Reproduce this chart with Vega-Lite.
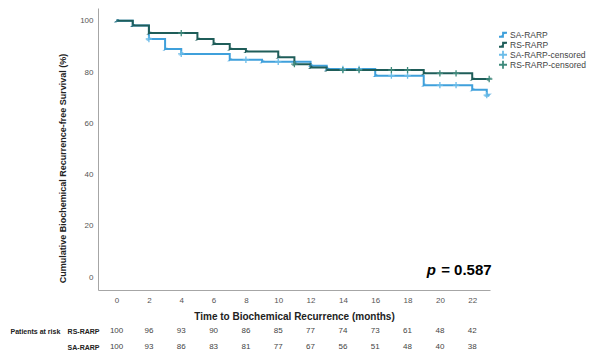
{
  "$schema": "https://vega.github.io/schema/vega-lite/v6.json",
  "padding": {"left": 10, "top": 8, "right": 0, "bottom": 0},
  "spacing": 2,
  "background": "white",
  "config": {
    "view": {"stroke": null},
    "font": "Liberation Sans",
    "axis": {"grid": false, "ticks": false, "domainColor": "#a6a6a6", "labelColor": "#555555", "labelFont": "Liberation Sans", "titleFont": "Liberation Sans", "titleColor": "#222222", "labelOverlap": false},
    "axisX": {"values": [0,2,4,6,8,10,12,14,16,18,20,22], "tickCount": 12, "labelOverlap": false, "labelBound": false, "labelFlush": false}
  },
  "datasets": {
    "curves": [
      {"group": "SA-RARP", "month": 0, "surv": 100},
      {"group": "SA-RARP", "month": 1, "surv": 98.2},
      {"group": "SA-RARP", "month": 2, "surv": 92.9},
      {"group": "SA-RARP", "month": 3, "surv": 89.0},
      {"group": "SA-RARP", "month": 4, "surv": 87.1},
      {"group": "SA-RARP", "month": 7, "surv": 84.8},
      {"group": "SA-RARP", "month": 9, "surv": 84.0},
      {"group": "SA-RARP", "month": 12, "surv": 82.5},
      {"group": "SA-RARP", "month": 13, "surv": 81.2},
      {"group": "SA-RARP", "month": 16, "surv": 78.6},
      {"group": "SA-RARP", "month": 19, "surv": 74.9},
      {"group": "SA-RARP", "month": 22, "surv": 73.1},
      {"group": "SA-RARP", "month": 22.9, "surv": 71.0},
      {"group": "SA-RARP", "month": 23.05, "surv": 71.0},
      {"group": "RS-RARP", "month": 0, "surv": 100},
      {"group": "RS-RARP", "month": 1, "surv": 98.2},
      {"group": "RS-RARP", "month": 2, "surv": 95.2},
      {"group": "RS-RARP", "month": 5, "surv": 92.9},
      {"group": "RS-RARP", "month": 6, "surv": 91.0},
      {"group": "RS-RARP", "month": 7, "surv": 89.0},
      {"group": "RS-RARP", "month": 8, "surv": 88.0},
      {"group": "RS-RARP", "month": 10, "surv": 85.8},
      {"group": "RS-RARP", "month": 11, "surv": 83.1},
      {"group": "RS-RARP", "month": 12, "surv": 81.8},
      {"group": "RS-RARP", "month": 13, "surv": 80.8},
      {"group": "RS-RARP", "month": 19, "surv": 79.5},
      {"group": "RS-RARP", "month": 22, "surv": 77.3},
      {"group": "RS-RARP", "month": 23.05, "surv": 77.3}
    ],
    "censored": [
      {"group": "SA-RARP-censored", "month": 2, "surv": 92.9},
      {"group": "SA-RARP-censored", "month": 4, "surv": 87.1},
      {"group": "SA-RARP-censored", "month": 8, "surv": 84.8},
      {"group": "SA-RARP-censored", "month": 10, "surv": 84.0},
      {"group": "SA-RARP-censored", "month": 14, "surv": 81.2},
      {"group": "SA-RARP-censored", "month": 15, "surv": 81.2},
      {"group": "SA-RARP-censored", "month": 17, "surv": 78.6},
      {"group": "SA-RARP-censored", "month": 18, "surv": 78.6},
      {"group": "SA-RARP-censored", "month": 20, "surv": 74.9},
      {"group": "SA-RARP-censored", "month": 21, "surv": 74.9},
      {"group": "SA-RARP-censored", "month": 22.9, "surv": 71.0},
      {"group": "RS-RARP-censored", "month": 4, "surv": 95.2},
      {"group": "RS-RARP-censored", "month": 11, "surv": 83.1},
      {"group": "RS-RARP-censored", "month": 14, "surv": 80.8},
      {"group": "RS-RARP-censored", "month": 15, "surv": 80.8},
      {"group": "RS-RARP-censored", "month": 17, "surv": 80.8},
      {"group": "RS-RARP-censored", "month": 18, "surv": 80.8},
      {"group": "RS-RARP-censored", "month": 20, "surv": 79.5},
      {"group": "RS-RARP-censored", "month": 21, "surv": 79.5},
      {"group": "RS-RARP-censored", "month": 23.05, "surv": 77.3}
    ],
    "risk": [
      {"group": "RS-RARP", "month": 0, "n": 100},
      {"group": "RS-RARP", "month": 2, "n": 96},
      {"group": "RS-RARP", "month": 4, "n": 93},
      {"group": "RS-RARP", "month": 6, "n": 90},
      {"group": "RS-RARP", "month": 8, "n": 86},
      {"group": "RS-RARP", "month": 10, "n": 85},
      {"group": "RS-RARP", "month": 12, "n": 77},
      {"group": "RS-RARP", "month": 14, "n": 74},
      {"group": "RS-RARP", "month": 16, "n": 73},
      {"group": "RS-RARP", "month": 18, "n": 61},
      {"group": "RS-RARP", "month": 20, "n": 48},
      {"group": "RS-RARP", "month": 22, "n": 42},
      {"group": "SA-RARP", "month": 0, "n": 100},
      {"group": "SA-RARP", "month": 2, "n": 93},
      {"group": "SA-RARP", "month": 4, "n": 86},
      {"group": "SA-RARP", "month": 6, "n": 83},
      {"group": "SA-RARP", "month": 8, "n": 81},
      {"group": "SA-RARP", "month": 10, "n": 77},
      {"group": "SA-RARP", "month": 12, "n": 67},
      {"group": "SA-RARP", "month": 14, "n": 56},
      {"group": "SA-RARP", "month": 16, "n": 51},
      {"group": "SA-RARP", "month": 18, "n": 48},
      {"group": "SA-RARP", "month": 20, "n": 40},
      {"group": "SA-RARP", "month": 22, "n": 38}
    ]
  },
  "vconcat": [
    {
      "width": 392,
      "height": 282,
      "encoding": {
        "x": {"field": "month", "type": "quantitative", "scale": {"domain": [-1.15, 23.1], "nice": false, "zero": false},
          "axis": {"values": [0,2,4,6,8,10,12,14,16,18,20,22], "labelOverlap": false, "labelFontSize": 8, "labelPadding": 6, "title": "Time to Biochemical Recurrence (months)", "titleFontSize": 10, "titleFontWeight": "bold", "titlePadding": 7}},
        "y": {"field": "surv", "type": "quantitative", "scale": {"domain": [-5, 105], "nice": false, "zero": false},
          "axis": {"values": [0,20,40,60,80,100], "labelOverlap": false, "labelFontSize": 8, "labelPadding": 5, "title": "Cumulative Biochemical Recurrence-free Survival (%)", "titleFontSize": 9, "titleFontWeight": "bold", "titleX": -31, "titleY": 160}}
      },
      "layer": [
        {
          "data": {"name": "curves"},
          "mark": {"type": "line", "interpolate": "step-after", "strokeWidth": 2},
          "encoding": {
            "color": {"field": "group", "type": "nominal",
              "scale": {"domain": ["SA-RARP", "RS-RARP", "SA-RARP-censored", "RS-RARP-censored"], "range": ["#3fa0db", "#1f5d59", "#6cbde9", "#3f8a7c"]},
              "legend": {"title": null, "orient": "none", "legendX": 400, "legendY": 22, "labelFontSize": 8.5, "labelColor": "#444444", "rowPadding": 0, "symbolSize": 64, "clipHeight": 9.5, "symbolStrokeWidth": 1.8, "labelOffset": 2}},
            "shape": {"field": "group", "type": "nominal",
              "scale": {"domain": ["SA-RARP", "RS-RARP", "SA-RARP-censored", "RS-RARP-censored"], "range": ["M-1,0.5H0V-0.5H1", "M-1,0.5H0V-0.5H1", "M-1,0H1M0,-1V1", "M-1,0H1M0,-1V1"]},
              "legend": null}
          }
        },
        {
          "data": {"name": "censored"},
          "mark": {"type": "point", "filled": false, "strokeWidth": 1.3, "size": 40, "opacity": 1},
          "encoding": {
            "color": {"field": "group", "type": "nominal"},
            "shape": {"field": "group", "type": "nominal"}
          }
        },
        {
          "data": {"values": [{"month": 19.75, "surv": 0.8, "label": "p"}]},
          "mark": {"type": "text", "align": "right", "baseline": "alphabetic", "font": "Liberation Sans", "fontSize": 15, "fontWeight": "bold", "fontStyle": "italic", "color": "#000000"},
          "encoding": {"text": {"field": "label"}}
        },
        {
          "data": {"values": [{"month": 23.2, "surv": 0.8, "label": "= 0.587"}]},
          "mark": {"type": "text", "align": "right", "baseline": "alphabetic", "font": "Liberation Sans", "fontSize": 15, "fontWeight": "bold", "color": "#000000"},
          "encoding": {"text": {"field": "label"}}
        }
      ]
    },
    {
      "width": 392,
      "height": 32,
      "data": {"name": "risk"},
      "mark": {"type": "text", "fontSize": 8, "color": "#444444", "font": "Liberation Sans"},
      "encoding": {
        "x": {"field": "month", "type": "quantitative", "scale": {"domain": [-1.15, 23.1], "nice": false, "zero": false}, "axis": null},
        "y": {"field": "group", "type": "nominal", "sort": ["RS-RARP", "SA-RARP"],
          "axis": {"domain": false, "labelFontSize": 7, "labelFontWeight": "bold", "labelColor": "#222222", "labelPadding": -1, "title": "Patients at risk", "titleAngle": 0, "titleFontSize": 7, "titleFontWeight": "bold", "titleColor": "#222222", "titleAlign": "left", "titleBaseline": "middle", "titleX": -88, "titleY": 8}},
        "text": {"field": "n", "type": "quantitative"}
      }
    }
  ]
}
